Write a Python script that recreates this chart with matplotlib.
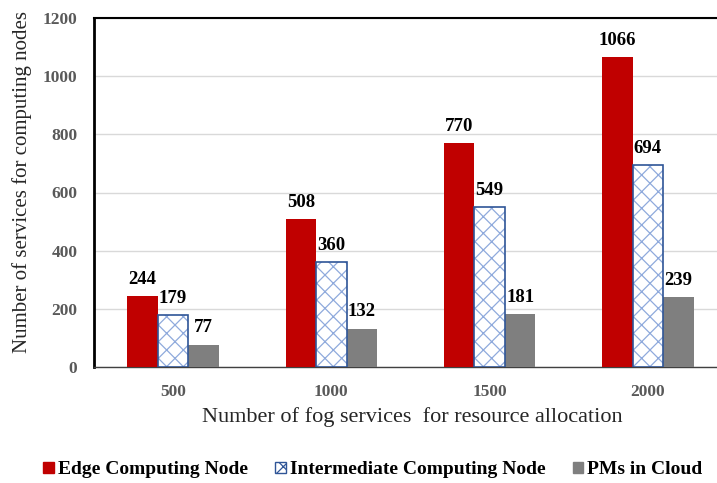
import matplotlib
matplotlib.use("Agg")
import matplotlib.pyplot as plt
import numpy as np
from matplotlib.patches import Patch

categories = ["500", "1000", "1500", "2000"]
edge_nodes = [244, 508, 770, 1066]
intermediate_nodes = [179, 360, 549, 694]
cloud_pms = [77, 132, 181, 239]
yticks = [0, 200, 400, 600, 800, 1000, 1200]

serif = ["Liberation Serif", "DejaVu Serif"]
plt.rcParams["font.family"] = serif
plt.rcParams["hatch.linewidth"] = 0.9

RED = "#c00000"
GREY = "#7f7f7f"
BLUE_EDGE = "#2f5597"
BLUE_HATCH = "#8faadc"
TICK_GREY = "#595959"

fig = plt.figure(figsize=(7.17, 4.83), dpi=100)
ax = fig.add_axes([94 / 717, 116 / 483, 633 / 717, 349 / 483])

x = np.arange(len(categories))
w = 0.193

ax.bar(x - w, edge_nodes, w, color=RED, zorder=3)
ax.bar(x, intermediate_nodes, w, color="white", edgecolor=BLUE_HATCH,
       hatch="xx", linewidth=0, zorder=3)
ax.bar(x, intermediate_nodes, w, fill=False, edgecolor=BLUE_EDGE,
       linewidth=1.2, zorder=4)
ax.bar(x + w, cloud_pms, w, color=GREY, zorder=3)

for offset, vals in ((-w, edge_nodes), (0, intermediate_nodes), (w, cloud_pms)):
    for xi, v in zip(x, vals):
        ax.annotate(str(v), (xi + offset, v), xytext=(0, 6),
                    textcoords="offset points", ha="center", va="bottom",
                    fontsize=13.5, fontweight="bold", color="black")

ax.set_xlim(-0.5, len(categories) - 0.5)
ax.set_ylim(0, 1200)
ax.set_yticks(yticks)
ax.set_xticks(x)
ax.set_xticklabels(categories)
ax.tick_params(axis="both", length=0, labelsize=12.5, labelcolor=TICK_GREY)
ax.tick_params(axis="y", pad=12)
ax.tick_params(axis="x", pad=12)
for lab in ax.get_xticklabels() + ax.get_yticklabels():
    lab.set_fontweight("bold")

ax.yaxis.grid(True, color="#d9d9d9", linewidth=1.0, zorder=0)
ax.set_axisbelow(True)

ax.spines["left"].set_color("black")
ax.spines["left"].set_linewidth(2.0)
ax.spines["top"].set_color("black")
ax.spines["top"].set_linewidth(1.5)
ax.spines["right"].set_visible(False)
ax.spines["bottom"].set_color("#404040")
ax.spines["bottom"].set_linewidth(1.0)

fig.text(22 / 717, 1 - 182 / 483, "Number of services for computing nodes",
         rotation=90, ha="center", va="center", fontsize=15, color="#262626")
fig.text(412 / 717, 1 - 417 / 483, "Number of fog services  for resource allocation",
         ha="center", va="center", fontsize=16, color="#262626")

handles = [
    Patch(facecolor=RED, edgecolor=RED, label="Edge Computing Node"),
    Patch(facecolor="white", edgecolor=BLUE_EDGE, hatch="xx",
          label="Intermediate Computing Node"),
    Patch(facecolor=GREY, edgecolor=GREY, label="PMs in Cloud"),
]
leg = fig.legend(handles=handles, loc="center", bbox_to_anchor=(373 / 717, 1 - 470 / 483),
                 ncol=3, frameon=False, handlelength=0.55, handleheight=0.55,
                 handletextpad=0.2, columnspacing=1.4,
                 prop={"family": serif, "weight": "bold", "size": 14})

fig.savefig("out.png", dpi=100)
